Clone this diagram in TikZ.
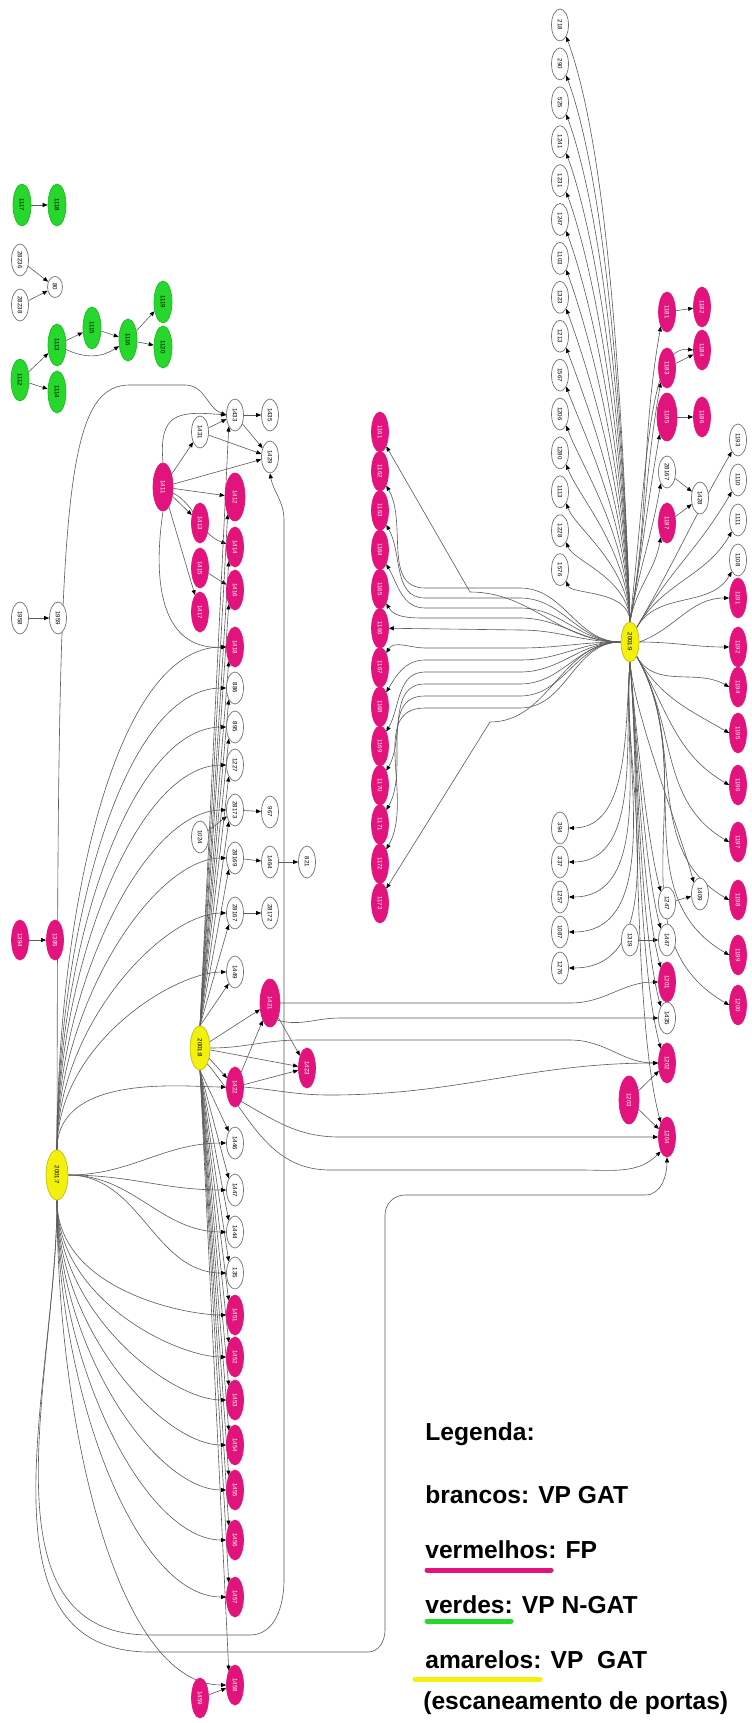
\documentclass[tikz,border=0pt]{standalone}
\usepackage{fontspec}
\setmainfont{Liberation Sans}
\usepackage{graphicx}
\usepackage{xcolor}
\usetikzlibrary{arrows.meta, shapes.geometric, positioning, backgrounds}

\definecolor{fpred}{HTML}{E2137C}
\definecolor{ngreen}{HTML}{27D82C}
\definecolor{scanyel}{HTML}{F2F00C}
\definecolor{edgegray}{HTML}{5C5C5C}

\newcommand{\vtxt}[1]{\rotatebox{-90}{#1}}

\begin{document}
\begin{tikzpicture}[x=0.02cm, y=-0.02cm,
  vp/.style={ellipse, draw=black!55, fill=white, minimum width=0.34cm, minimum height=0.64cm, inner sep=0pt, font={\fontsize{3.5}{4}\selectfont}},
  fp/.style={ellipse, draw=fpred, fill=fpred, minimum width=0.34cm, minimum height=0.8cm, inner sep=0pt, text=white, font={\fontsize{3.5}{4}\selectfont}},
  fpbig/.style={fp, minimum width=0.4cm, minimum height=0.96cm},
  ng/.style={ellipse, draw=ngreen!85!black, fill=ngreen, minimum width=0.36cm, minimum height=0.84cm, inner sep=0pt, font={\fontsize{3.5}{4}\selectfont}},
  scan/.style={ellipse, draw=scanyel!80!black, fill=scanyel, minimum width=0.4cm, minimum height=0.88cm, inner sep=0pt, font={\fontsize{3.5}{4}\selectfont}},
  link/.style={draw=edgegray, line width=0.35pt, -{Triangle[length=1mm,width=0.8mm,black]}},
  legtext/.style={inner sep=0pt, font={\fontsize{14}{17}\selectfont\bfseries}},
  legbar/.style={line width=1mm, line cap=round}]

\useasboundingbox (0,0) rectangle (751,1723);

% Define nodes: small fragments top left
\node[ng] (gA1) at (22,205) {\vtxt{1117}};
\node[ng] (gA2) at (57,205) {\vtxt{1118}};
\node[vp] (wB1) at (20,260) {\vtxt{28236}};
\node[vp] (wB2) at (20,305) {\vtxt{28238}};
\node[vp, minimum width=0.3cm, minimum height=0.42cm] (wB3) at (55,287) {\vtxt{80}};
\node[ng] (gC1) at (20,380) {\vtxt{1112}};
\node[ng] (gC2) at (57,345) {\vtxt{1113}};
\node[ng] (gC3) at (57,392) {\vtxt{1114}};
\node[ng] (gC4) at (92,328) {\vtxt{1115}};
\node[ng] (gC5) at (128,340) {\vtxt{1116}};
\node[ng] (gC6) at (163,302) {\vtxt{1119}};
\node[ng] (gC7) at (163,347) {\vtxt{1120}};
\node[vp] (wD1) at (20,618) {\vtxt{1958}};
\node[vp] (wD2) at (58,618) {\vtxt{1959}};
\node[fp] (rE1) at (20,940) {\vtxt{1394}};
\node[fp] (rE2) at (55,940) {\vtxt{1395}};

% Scanners (yellow)
\node[scan, minimum width=0.44cm, minimum height=1cm] (scanA) at (57,1175) {\vtxt{2001:7}};
\node[scan] (scanB) at (200,1048) {\vtxt{2001:8}};
\node[scan, minimum width=0.36cm, minimum height=0.8cm] (scanC) at (630,642) {\vtxt{2001:9}};

% Column next to the second scanner
\node[fpbig] (rF) at (163,487) {\vtxt{1411}};
\node[vp] (wG1) at (200,432) {\vtxt{1431}};
\node[vp] (wG2) at (235,415) {\vtxt{1433}};
\node[vp] (wG3) at (270,415) {\vtxt{1435}};
\node[vp] (wG4) at (270,457) {\vtxt{1429}};
\node[fpbig] (rH1) at (235,497) {\vtxt{1412}};
\node[fp] (rH2) at (200,523) {\vtxt{1413}};
\node[fp] (rH3) at (235,547) {\vtxt{1414}};
\node[fp] (rH4) at (200,568) {\vtxt{1415}};
\node[fp] (rH5) at (235,590) {\vtxt{1416}};
\node[fp] (rH6) at (200,612) {\vtxt{1417}};
\node[fp] (rH7) at (235,647) {\vtxt{1418}};
\node[vp] (wI1) at (235,688) {\vtxt{886}};
\node[vp] (wI2) at (235,727) {\vtxt{895}};
\node[vp] (wI3) at (235,765) {\vtxt{1227}};
\node[vp] (wI4) at (235,810) {\vtxt{28173}};
\node[vp] (wI4b) at (270,812) {\vtxt{967}};
\node[vp] (wI0) at (200,837) {\vtxt{1024}};
\node[vp] (wI5) at (235,858) {\vtxt{28169}};
\node[vp] (wI5b) at (270,862) {\vtxt{1464}};
\node[vp] (wI5c) at (307,862) {\vtxt{821}};
\node[vp] (wI6) at (235,913) {\vtxt{28167}};
\node[vp] (wI6b) at (270,913) {\vtxt{28172}};
\node[vp] (wI7) at (235,972) {\vtxt{1449}};
\node[fpbig] (rJ1) at (270,1003) {\vtxt{1421}};
\node[fp] (rJ2) at (235,1087) {\vtxt{1422}};
\node[fp] (rJ3) at (307,1068) {\vtxt{1423}};
\node[vp] (wK1) at (235,1143) {\vtxt{1446}};
\node[vp] (wK2) at (235,1190) {\vtxt{1447}};
\node[vp] (wK3) at (235,1232) {\vtxt{1444}};
\node[vp] (wK4) at (235,1273) {\vtxt{135}};
\foreach \i/\y/\t in {1/1315/1451, 2/1357/1452, 3/1400/1453, 4/1445/1454, 5/1490/1455, 6/1540/1456, 7/1597/1457}
  \node[fp] (rL\i) at (235,\y) {\vtxt{\t}};
\node[fp] (rM1) at (235,1685) {\vtxt{1458}};
\node[fp] (rM2) at (200,1698) {\vtxt{1459}};

% Middle red column
\foreach \i/\t in {1/1161, 2/1162, 3/1163, 4/1164, 5/1165, 6/1166, 7/1167, 8/1168, 9/1169, 10/1170, 11/1171, 12/1172, 13/1173}
  \node[fp] (rN\i) at (380,{432+39.25*(\i-1)}) {\vtxt{\t}};

% Third scanner neighbourhood
\foreach \i/\t in {1/218, 2/290, 3/525, 4/1241, 5/1231, 6/1247, 7/1103, 8/1323, 9/1213, 10/1567, 11/1206, 12/1280, 13/1113, 14/1228, 15/1576}
  \node[vp] (wP\i) at (560,{25+38.9*(\i-1)}) {\vtxt{\t}};
\foreach \i/\y/\t in {1/828/394, 2/862/337, 3/897/1257, 4/932/1087, 5/968/1276}
  \node[vp] (wQ\i) at (560,\y) {\vtxt{\t}};
\node[fp] (rR1) at (667,312) {\vtxt{1181}};
\node[fp] (rR1b) at (702,307) {\vtxt{1182}};
\node[fp] (rR2) at (667,368) {\vtxt{1183}};
\node[fp] (rR2b) at (702,350) {\vtxt{1184}};
\node[fpbig] (rR3) at (667,417) {\vtxt{1185}};
\node[fp] (rR3b) at (702,417) {\vtxt{1186}};
\node[vp] (wR4) at (667,472) {\vtxt{28167}};
\node[vp] (wR4b) at (700,498) {\vtxt{1428}};
\node[fp] (rR5) at (667,523) {\vtxt{1187}};
\foreach \i/\y/\t in {1/440/1193, 2/480/1110, 3/520/1111, 4/560/1108}
  \node[vp] (wS\i) at (738,\y) {\vtxt{\t}};
\foreach \i/\y/\t in {1/598/1191, 2/647/1192, 3/687/1194, 4/733/1195, 5/785/1196, 6/842/1197, 7/900/1198, 8/955/1199, 9/1005/1200}
  \node[fp] (rS\i) at (738,\y) {\vtxt{\t}};
\node[vp] (wT1) at (667,903) {\vtxt{1247}};
\node[vp] (wT1b) at (700,894) {\vtxt{1409}};
\node[vp] (wT2) at (630,940) {\vtxt{1319}};
\node[vp] (wT3) at (667,940) {\vtxt{1447}};
\node[fp] (rT4) at (667,982) {\vtxt{1201}};
\node[vp] (wT5) at (667,1018) {\vtxt{1435}};
\node[fp] (rT6) at (667,1063) {\vtxt{1202}};
\node[fpbig] (rT7) at (629,1100) {\vtxt{1203}};
\node[fp] (rT8) at (667,1137) {\vtxt{1204}};

% Legend
\node[legtext, anchor=base west] (legTitle) at (425,1440) {Legenda:};
\node[legtext, anchor=base west] (legWhite) at (425,1503) {brancos: VP GAT};
\node[legtext, anchor=base west] (legRed) at (425,1558) {vermelhos: FP};
\node[legtext, anchor=base west] (legGreen) at (425,1613) {verdes: VP N-GAT};
\node[legtext, anchor=base west] (legYellow) at (425,1668) {amarelos: VP~~GAT};
\node[legtext, anchor=base west] (legScan) at (423,1709) {(escaneamento de portas)};
\draw[legbar, fpred] (427,1570) -- (551,1570);
\draw[legbar, ngreen] (427,1621) -- (511,1621);
\draw[legbar, scanyel] (415,1679) -- (540,1679);

\begin{scope}[on background layer]
% Fragments
\draw[link] (gA1) -- (gA2);
\draw[link] (wB1) -- (wB3);
\draw[link] (wB2) -- (wB3);
\draw[link] (gC1) -- (gC2);
\draw[link] (gC1) -- (gC3);
\draw[link] (gC2) -- (gC4);
\draw[link] (gC2) to[bend right=30] (gC5);
\draw[link] (gC4) -- (gC5);
\draw[link] (gC5) -- (gC6);
\draw[link] (gC5) -- (gC7);
\draw[link] (wD1) -- (wD2);
\draw[link] (rE1) -- (rE2);

% Cluster around rF
\draw[link] (rF) -- (wG1);
\draw[link] (rF) -- (wG4);
\draw[link] (rF) -- (rH1);
\draw[link] (rF) -- (rH2);
\draw[link] (rF) to[out=-30,in=160] (rH3);
\draw[link] (rF) -- (rH6);
\draw[link] (rF.north) to[out=95,in=175,looseness=1.6] (wG2.west);
\draw[link] (rF.south) .. controls (150,600) and (170,650) .. (rH7.west);
\draw[link] (wG1) -- (wG2);
\draw[link] (wG1) -- (wG4);
\draw[link] (wG2) -- (wG3);
\draw[link] (wG2) -- (wG4);
\draw[link] (rH4) -- (rH5);
\draw[link] (wI0) -- (wI4);
\draw[link] (wI4) -- (wI4b);
\draw[link] (wI5) -- (wI5b);
\draw[link] (wI5b) -- (wI5c);
\draw[link] (wI6) -- (wI6b);

% Second scanner
\foreach \n in {wG2,rH1,rH3,rH5,rH7,wI1,wI2,wI3,wI4,wI5,wI6,wI7}
  \draw[link] (scanB.north) -- (\n.south west);
\foreach \n in {wK1,wK2,wK3,wK4,rL1,rL2,rL3,rL4,rL5,rL6,rL7,rM1}
  \draw[link] (scanB.south) -- (\n.north west);
\draw[link] (scanB) -- (rJ1);
\draw[link] (scanB) -- (rJ2);
\draw[link] (scanB) -- (rJ3);
\draw[link] (rJ2) -- (rJ1);
\draw[link] (rJ1) -- (rJ3);
\draw[link] (rJ2) -- (rJ3);
\draw[link] (rM2) -- (rM1);

% First scanner
\draw[link] (scanA.north) .. controls (58,520) and (60,385) .. (130,385) -- (185,385) to[out=0,in=160] (wG2.west);
\foreach \n in {rH7,wI1,wI2,wI3,wI4,wI5,wI6,wI7,rJ2}
  \draw[link] (scanA.north) to[out=90,in=180,out looseness=1.1,in looseness=0.55] (\n.west);
\foreach \n in {wK1,wK2,wK3,wK4}
  \draw[link] (scanA.east) to[out=0,in=180] (\n.west);
\foreach \n in {rL1,rL2,rL3,rL4,rL5,rL6,rL7,rM1}
  \draw[link] (scanA.south) to[out=-90,in=180,out looseness=1.1,in looseness=0.55] (\n.west);
\draw[link] (scanA.south) to[out=-90,in=180] (150,1635) -- (250,1635) to[out=0,in=-90] (284,1580) -- (284,520) to[out=90,in=-80] (wG4.south);
\draw[link] (scanA.south) to[out=-90,in=180] (150,1652) -- (368,1652) to[out=0,in=-90] (385,1630) -- (385,1215) to[out=90,in=180] (405,1195) -- (645,1195) to[out=0,in=-90] (rT8.south);

% Long links to the right
\draw[link] (rJ1.east) -- (570,1003) to[out=0,in=180] (rT4.west);
\draw[link] (rJ1.south east) to[out=-15,in=180] (340,1018) -- (wT5.west);
\draw[link] (scanB.east) to[out=0,in=180] (300,1040) -- (570,1040) to[out=0,in=180] (rT6.west);
\draw[link] (rJ2.east) to[out=-5,in=180] (330,1095) to[out=0,in=180] (rT6.west);
\draw[link] (rJ2.south east) to[out=-30,in=180] (340,1137) -- (rT8.west);
\draw[link] (scanB.south east) to[out=-50,in=180] (330,1170) -- (580,1170) to[out=0,in=-135] (rT8.south west);
\draw[link] (rT7) -- (rT6);
\draw[link] (rT7) -- (rT8);
\draw[link] (wT2) -- (wT3);
\draw[link] (wT1) -- (wT1b);

% Third scanner
\foreach \i in {1,...,15}
  \draw[link] (scanC.north) to[out=92,in=-70,out looseness=1.1,in looseness=0.5] (wP\i.south east);
\foreach \n in {rR1,rR2,rR3,wR4,rR5}
  \draw[link] (scanC.north) to[out=80,in=-100] (\n.south west);
\draw[link] (scanC.north) .. controls (648,460) and (648,345) .. (rR2b.west);
\draw[link] (rR1) -- (rR1b);
\draw[link] (rR2) -- (rR2b);
\draw[link] (rR3) -- (rR3b);
\draw[link] (wR4) -- (wR4b);
\draw[link] (rR5) -- (wR4b);
\foreach \i in {1,...,4}
  \draw[link] (scanC.north east) to[out=60,in=-120] (wS\i.south west);
\draw[link] (scanC.east) to[out=20,in=180] (rS1.west);
\draw[link] (scanC.east) to[out=0,in=180] (rS2.west);
\foreach \i in {3,...,9}
  \draw[link] (scanC.south east) to[out=-60,in=150] (rS\i.west);
\foreach \i in {1,...,5}
  \draw[link] (scanC.south) to[out=-95,in=0,looseness=0.9] (wQ\i.east);
\foreach \n in {wT1,wT1b,wT3,rT4,wT5,rT6,rT8}
  \draw[link] (scanC.south) to[out=-85,in=105,looseness=0.6] (\n.north west);
\draw[link] (scanC.west) to[out=180,in=0] (470,592) -- (rN1.south east);
\foreach \i/\yh in {2/588, 3/598, 4/608, 5/618}
  \draw[link] (scanC.west) to[out=180,in=0] (520,\yh) -- (425,\yh) to[out=180,in=-60] (rN\i.south east);
\draw[link] (scanC.west) to[out=180,in=0] (520,630) -- (rN6.east);
\foreach \i/\yh in {7/648, 8/660, 9/672, 10/684, 11/696, 12/708}
  \draw[link] (scanC.west) to[out=180,in=0] (520,\yh) -- (425,\yh) to[out=180,in=60] (rN\i.north east);
\draw[link] (scanC.west) to[out=180,in=0] (490,722) -- (rN13.north east);
\end{scope}

\end{tikzpicture}
\end{document}
